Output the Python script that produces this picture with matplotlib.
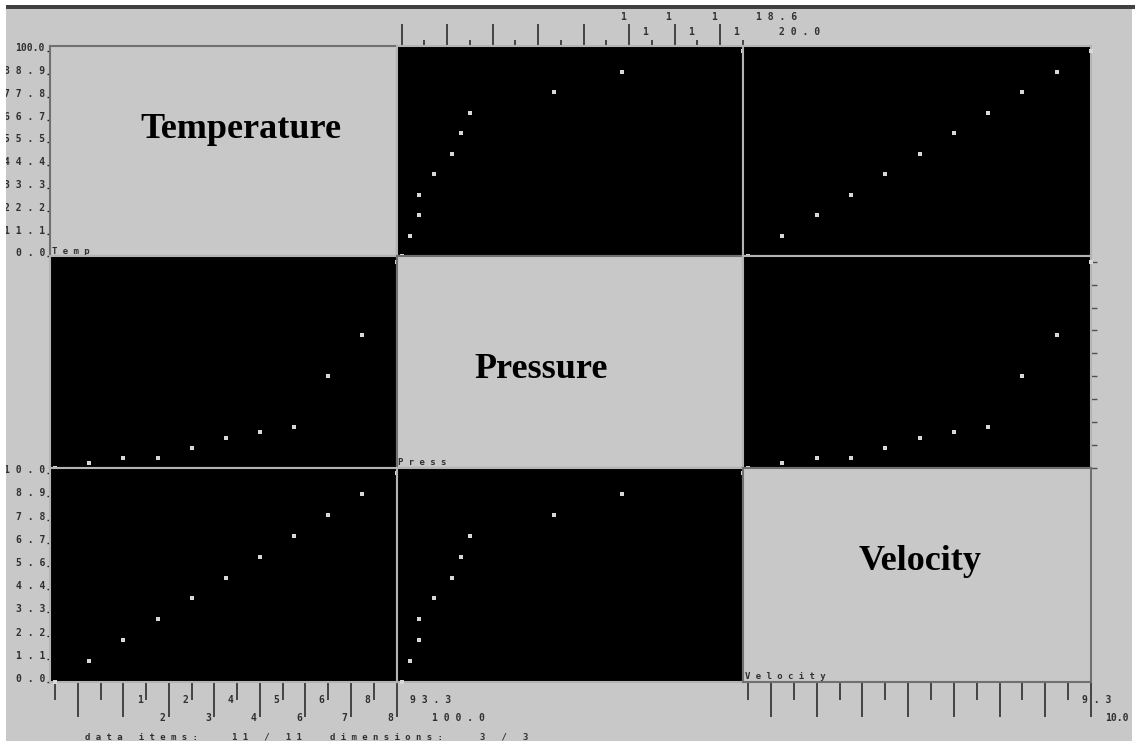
import numpy as np
import matplotlib
matplotlib.use("Agg")
import matplotlib.pyplot as plt
from matplotlib.patches import Rectangle

# ---------------------------------- data ----------------------------------
names = ["Temp", "Press", "Velocity"]
titles = ["Temperature", "Pressure", "Velocity"]
temperature = [0, 10, 20, 30, 40, 50, 60, 70, 80, 90, 100]
pressure = [0.0, 0.5, 1.0, 1.0, 1.9, 2.95, 3.5, 4.0, 8.9, 12.9, 20.0]
velocity = [0, 1, 2, 3, 4, 5, 6, 7, 8, 9, 10]

temp_ylabels = ["0.0", "11.1", "22.2", "33.3", "44.4", "55.5", "66.7", "77.8", "88.9", "100.0"]
vel_ylabels = ["0.0", "1.1", "2.2", "3.3", "4.4", "5.6", "6.7", "7.8", "8.9", "10.0"]
temp_xlabels = ["", "", "1", "2", "2", "3", "4", "4", "5", "6", "6", "7", "8", "8", "93.3", "100.0"]
press_xlabels = ["", "", "", "", "", "", "", "", "1", "1", "1", "1", "1", "1", "18.6", "20.0"]
vel_xlabels = ["", "", "", "", "", "", "", "", "", "", "", "", "", "", "9.3", "10.0"]

columns = [temperature, pressure, velocity]

W, H = 1135, 743
GRAY = "#c8c8c8"
INK = "#303030"
MONO = "DejaVu Sans Mono"


def fx(x):
    return x / W


def fy(y):
    return 1 - y / H


def spaced(s):
    return " ".join(s)


fig = plt.figure(figsize=(W / 100, H / 100), dpi=100)
fig.patch.set_facecolor("white")

# background of the window
fig.add_artist(Rectangle((fx(6), fy(741)), fx(1132) - fx(6), fy(7) - fy(741),
                         transform=fig.transFigure, facecolor=GRAY, edgecolor="none", zorder=-5))

# ---------------------------------- panels ----------------------------------
xs = [50, 396.5, 743, 1091]
ys = [46, 256.5, 468, 682]
axs = {}
for i in range(3):
    for j in range(3):
        ax = fig.add_axes([fx(xs[j]), fy(ys[i + 1]), fx(xs[j + 1]) - fx(xs[j]), fy(ys[i]) - fy(ys[i + 1])])
        xv = columns[j]
        yv = columns[i]
        ax.set_xlim(-0.015 * max(xv), max(xv))
        ax.set_ylim(0, max(yv) * 1.025)
        ax.set_xticks([])
        ax.set_yticks([])
        if i == j:
            ax.set_facecolor(GRAY)
            for sp in ax.spines.values():
                sp.set_color("#707070")
                sp.set_linewidth(1.5)
            ax.text(0.005, 0.004, spaced(names[i]), transform=ax.transAxes, ha="left", va="bottom",
                    fontsize=6.5, family=MONO, weight="bold", color=INK)
        else:
            ax.set_facecolor("black")
            for sp in ax.spines.values():
                sp.set_color("#b4b4b4")
                sp.set_linewidth(1.5)
            ax.scatter(xv, yv, marker="s", s=5, c="#d8d8d8", linewidths=0, clip_on=False, zorder=3)
        axs[(i, j)] = ax

# big labels on the diagonal
axs[(0, 0)].text(0.55, 0.563, titles[0], transform=axs[(0, 0)].transAxes, ha="center", va="baseline",
                 fontsize=26, family="Liberation Serif", weight="bold", color="black")
axs[(1, 1)].text(0.417, 0.426, titles[1], transform=axs[(1, 1)].transAxes, ha="center", va="baseline",
                 fontsize=26, family="Liberation Serif", weight="bold", color="black")
axs[(2, 2)].text(0.509, 0.523, titles[2], transform=axs[(2, 2)].transAxes, ha="center", va="baseline",
                 fontsize=26, family="Liberation Serif", weight="bold", color="black")


# ---------------------------------- axes ----------------------------------
def x_axis(ax, vmax, labels, side, dx=36, tight_last=False):
    vals = np.linspace(0, vmax, len(labels))
    if side == "bottom":
        long_t, short_t = vals[1::2], vals[0::2]
        long_len, short_len = 25, 13
        dys = (-18, -36)
        ya = 0
    else:
        long_t, short_t = vals[0::2], vals[1::2]
        long_len, short_len = 16, 4.5
        dys = (29, 14)
        ya = 1
    ax.xaxis.set_ticks_position(side)
    ax.set_xticks(long_t)
    ax.set_xticks(short_t, minor=True)
    ax.tick_params(axis="x", which="major", direction="out", length=long_len, width=1.1, color="#202020",
                   labelbottom=False, labeltop=False)
    ax.tick_params(axis="x", which="minor", direction="out", length=short_len, width=1.1, color="#202020",
                   labelbottom=False, labeltop=False)
    for k, (v, lab) in enumerate(zip(vals, labels)):
        if lab == "":
            continue
        txt = lab if (tight_last and k == len(labels) - 1) else spaced(lab)
        ax.annotate(txt, xy=(v, ya), xycoords=("data", "axes fraction"),
                    xytext=(dx, dys[k % 2]), textcoords="offset pixels", ha="left", va="center",
                    fontsize=7, family=MONO, weight="bold", color=INK, annotation_clip=False)


def y_axis_left(ax, vmax, labels):
    vals = np.linspace(0, vmax, len(labels))
    ax.set_yticks(vals)
    ax.tick_params(axis="y", which="major", direction="out", length=2.5, width=1.0, color="#202020",
                   labelleft=False)
    for v, lab in zip(vals, labels):
        txt = spaced(lab) if len(lab) < 5 else lab
        ax.annotate(txt, xy=(0, v), xycoords=("axes fraction", "data"),
                    xytext=(-5, 3), textcoords="offset pixels", ha="right", va="center",
                    fontsize=7, family=MONO, weight="bold", color=INK, annotation_clip=False)


x_axis(axs[(2, 0)], max(temperature), temp_xlabels, "bottom")
x_axis(axs[(2, 2)], max(velocity), vel_xlabels, "bottom", dx=14, tight_last=True)
x_axis(axs[(0, 1)], max(pressure), press_xlabels, "top")
y_axis_left(axs[(0, 0)], max(temperature), temp_ylabels)
y_axis_left(axs[(2, 0)], max(velocity), vel_ylabels)

# right side ticks of the pressure row
axr = axs[(1, 2)]
axr.yaxis.set_ticks_position("right")
axr.set_yticks(np.linspace(0, max(pressure), 10))
axr.tick_params(axis="y", direction="out", length=4, width=1.0, color="#505050", labelright=False)

# status line
fig.text(fx(85), fy(737), spaced("data items:"), ha="left", va="center", fontsize=6.5,
         family=MONO, weight="bold", color=INK)
fig.text(fx(232), fy(737), spaced("11 / 11"), ha="left", va="center", fontsize=6.5,
         family=MONO, weight="bold", color=INK)
fig.text(fx(330), fy(737), spaced("dimensions:"), ha="left", va="center", fontsize=6.5,
         family=MONO, weight="bold", color=INK)
fig.text(fx(480), fy(737), spaced("3 / 3"), ha="left", va="center", fontsize=6.5,
         family=MONO, weight="bold", color=INK)

# white margins and the dark top line, drawn above everything
for (x0, y0, x1, y1) in [(0, 0, 6, 743), (1132, 0, 1135, 743), (0, 741, 1135, 743), (0, 0, 1135, 6)]:
    fig.add_artist(Rectangle((fx(x0), fy(y1)), fx(x1) - fx(x0), fy(y0) - fy(y1),
                             transform=fig.transFigure, facecolor="white", edgecolor="none", zorder=10))
fig.add_artist(Rectangle((fx(6), fy(8.5)), fx(1135) - fx(6), fy(5.5) - fy(8.5),
                         transform=fig.transFigure, facecolor="#404040", edgecolor="none", zorder=11))

fig.savefig("out.png", dpi=100, facecolor=fig.get_facecolor())
